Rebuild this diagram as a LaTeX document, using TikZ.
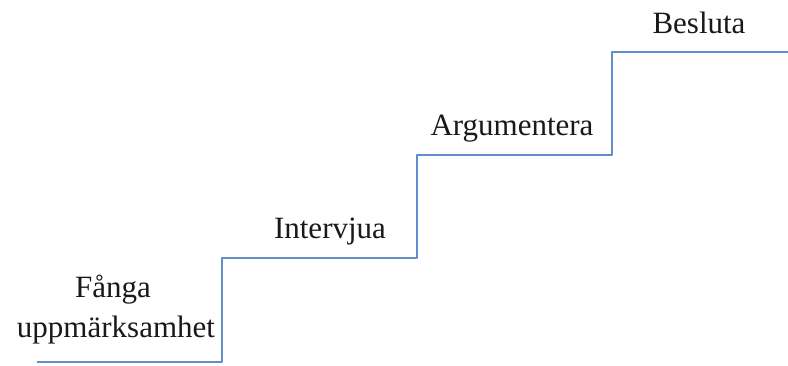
\documentclass[tikz,border=0pt]{standalone}
\usepackage{fontspec}
\setmainfont{Liberation Serif}
\begin{document}
\begin{tikzpicture}[x=1pt,y=-1pt,
  stair/.style={draw={rgb,255:red,96;green,142;blue,203}, line width=2.8pt, line join=round},
  steplabel/.style={font=\fontsize{31}{40}\selectfont, text={rgb,255:red,25;green,25;blue,25}, anchor=base, inner sep=0pt, align=center}]
  \useasboundingbox (0,0) rectangle (788,365);
  % staircase corners
  \coordinate (s0) at (37,362);
  \coordinate (s1) at (222,362);
  \coordinate (s2) at (222,258);
  \coordinate (s3) at (417,258);
  \coordinate (s4) at (417,155);
  \coordinate (s5) at (612,155);
  \coordinate (s6) at (612,52);
  \coordinate (s7) at (789,52);
  \draw[stair] (s0) -- (s1) -- (s2) -- (s3) -- (s4) -- (s5) -- (s6) -- (s7);
  % step labels
  \node[steplabel] (l1a) at (113,297) {Fånga};
  \node[steplabel] (l1b) at (116,337) {uppmärksamhet};
  \node[steplabel] (l2) at (330,238) {Intervjua};
  \node[steplabel] (l3) at (512,135) {Argumentera};
  \node[steplabel] (l4) at (699,33) {Besluta};
\end{tikzpicture}
\end{document}
